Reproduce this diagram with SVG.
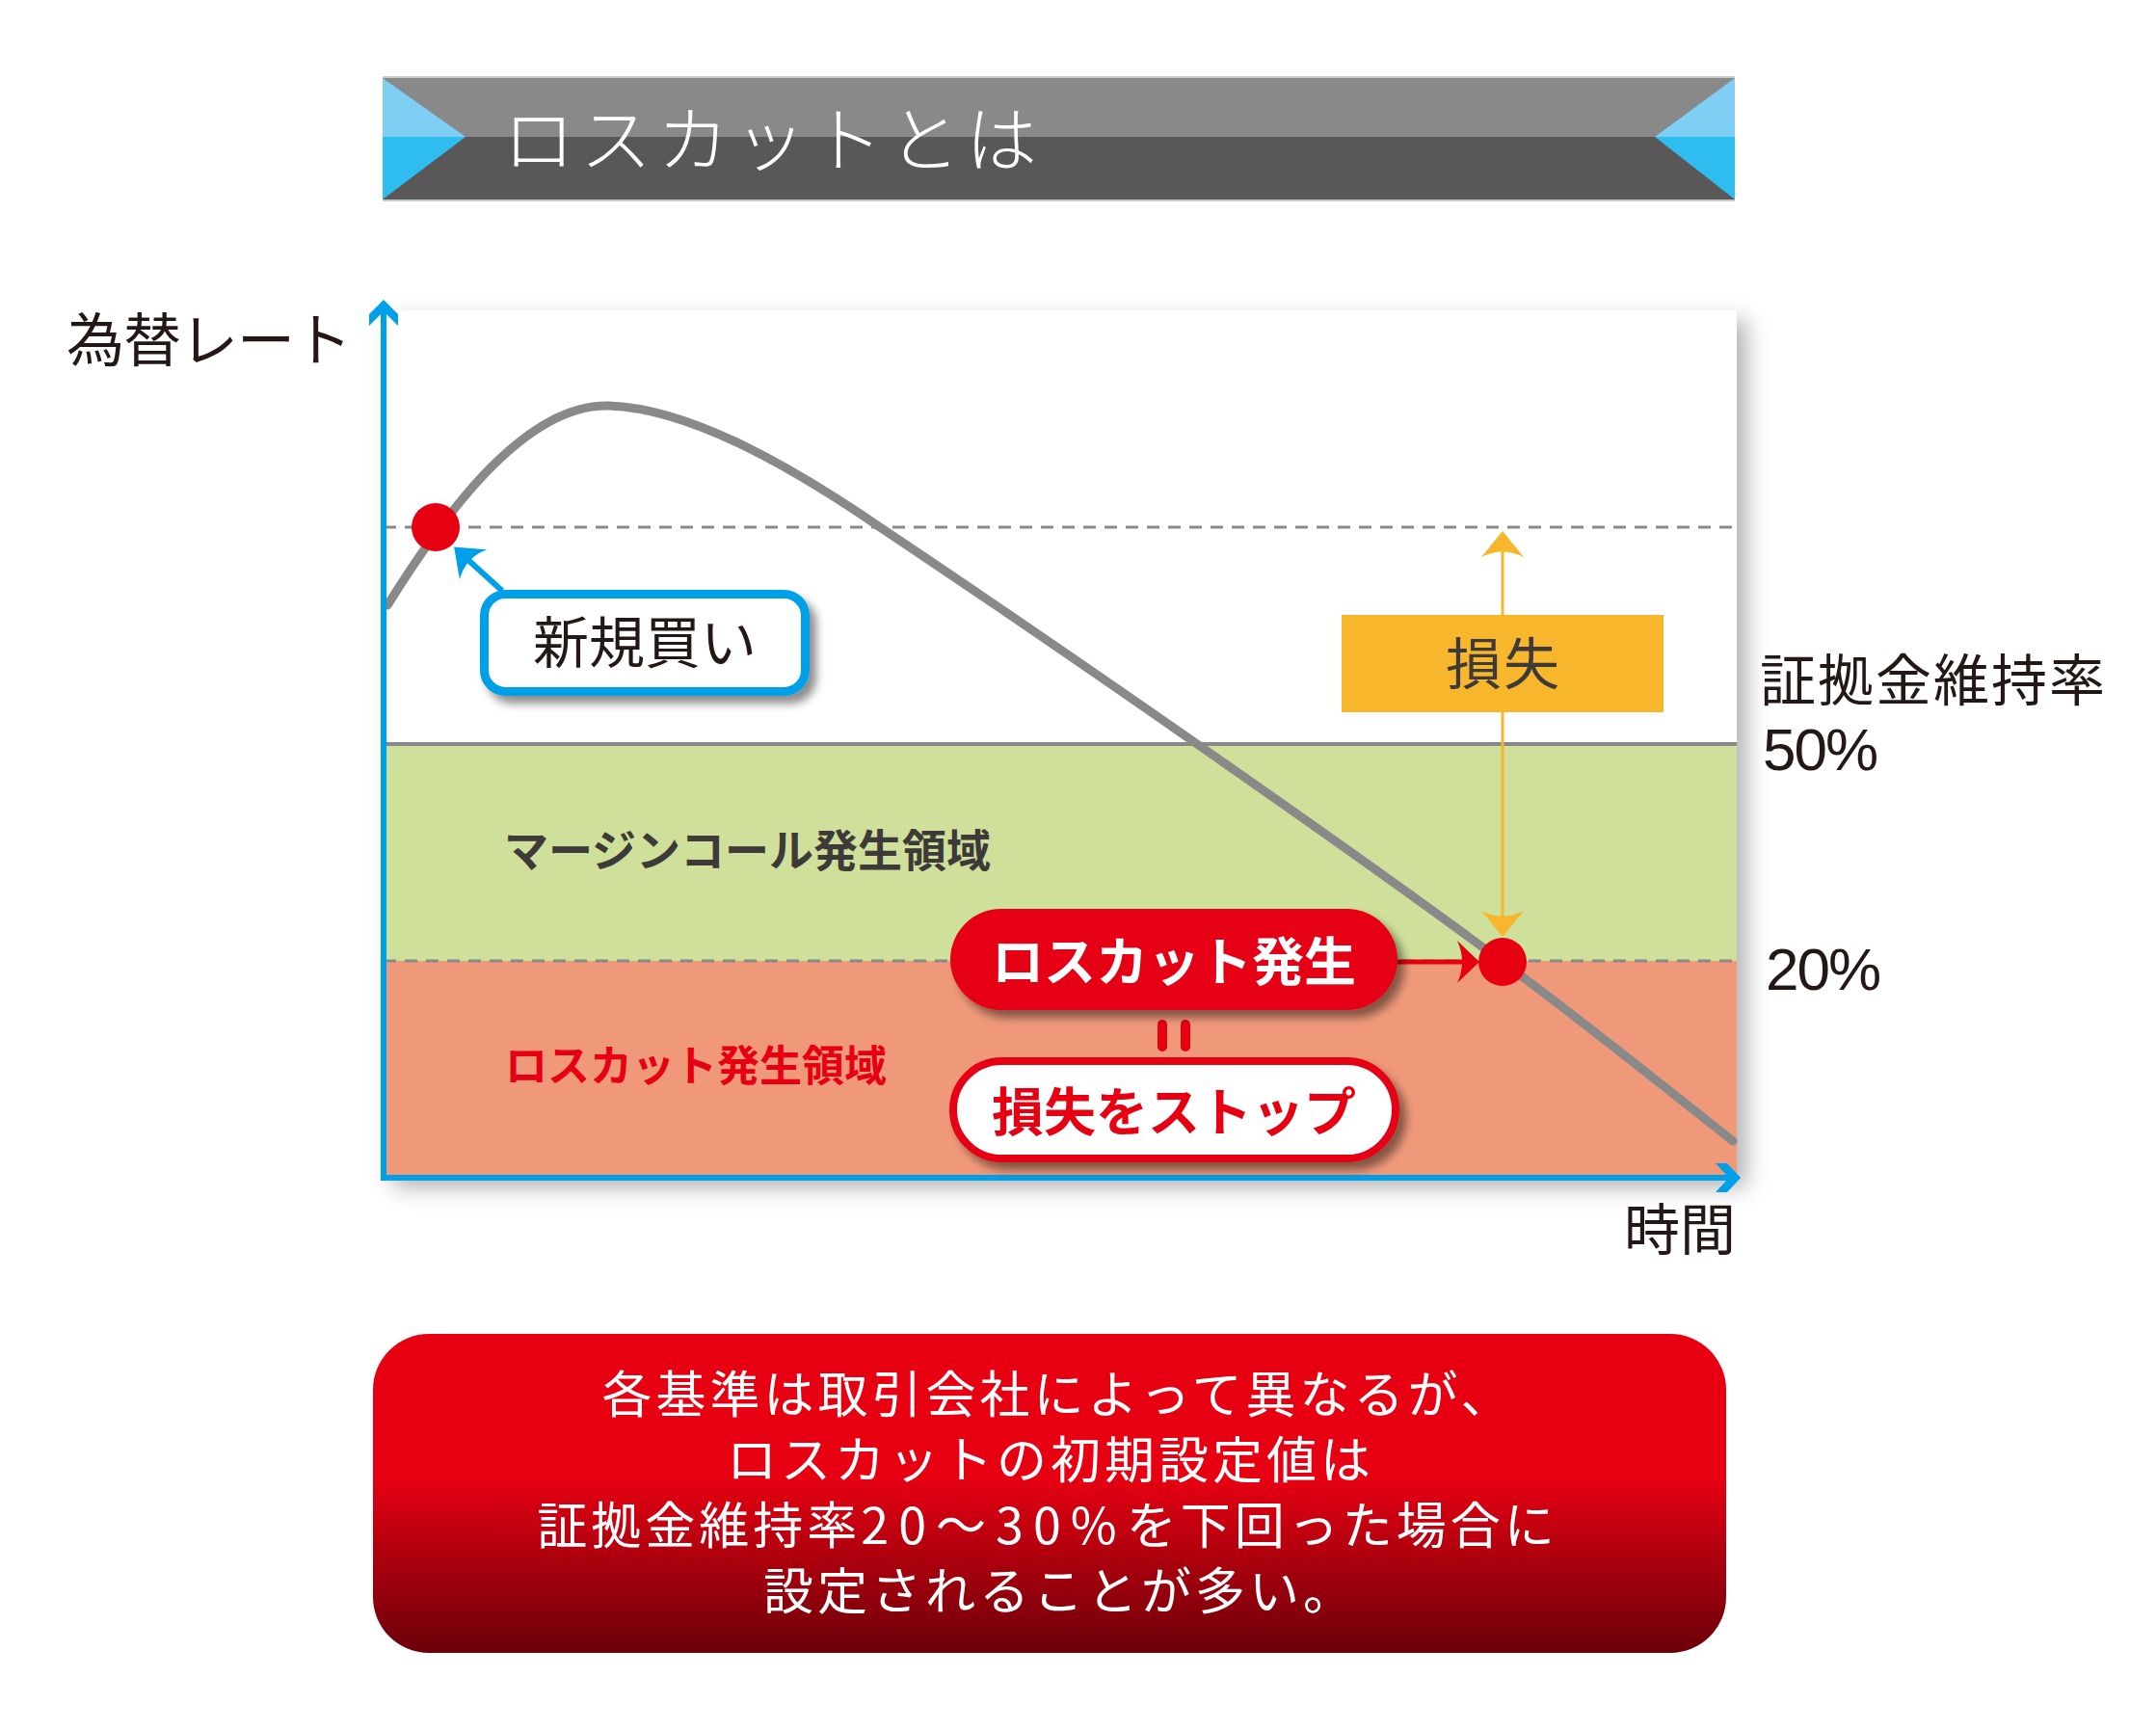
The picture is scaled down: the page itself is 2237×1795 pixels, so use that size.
<svg xmlns="http://www.w3.org/2000/svg" width="2237" height="1795" viewBox="0 0 2237 1795">
<defs>
<style>
text { font-family: "Noto Sans CJK JP", "Noto Sans", sans-serif; }
.dark { fill: #231815; }
.gray { fill: #3e3a39; }
.white { fill: #ffffff; }
.red { fill: #e60012; }
.ref { stroke: #898989; fill: none; }
.dash { stroke: #898989; stroke-width: 3; stroke-dasharray: 13 9; fill: none; }
.axis { stroke: #00a0e9; stroke-width: 6; fill: none; }
.note { fill: #ffffff; font-size: 52px; letter-spacing: 4px; text-anchor: middle; font-weight: 400; }
text.pct { font-family: "Liberation Sans", "Noto Sans", sans-serif; font-size: 62px; letter-spacing: -2px; }
</style>
<filter id="panelShadow" x="-5%" y="-5%" width="115%" height="115%">
<feDropShadow dx="10" dy="10" stdDeviation="11" flood-color="#000" flood-opacity="0.3"/>
</filter>
<filter id="boxShadow" x="-10%" y="-20%" width="130%" height="150%">
<feDropShadow dx="7" dy="8" stdDeviation="5" flood-color="#000" flood-opacity="0.45"/>
</filter>
<linearGradient id="noteGrad" x1="0" y1="0" x2="0" y2="1">
<stop offset="0" stop-color="#e60012"/>
<stop offset="0.45" stop-color="#e60012"/>
<stop offset="1" stop-color="#6a0009"/>
</linearGradient>
<marker id="ahBlue" markerUnits="userSpaceOnUse" viewBox="-30 -25 40 50" markerWidth="40" markerHeight="50" refX="-8" refY="0" orient="auto">
<path d="M0,0 L-27,-21 Q-16,0 -27,21 Z" fill="#00a0e9"/>
</marker>
<marker id="ahYellow" markerUnits="userSpaceOnUse" viewBox="-30 -25 40 50" markerWidth="40" markerHeight="50" refX="-8" refY="0" orient="auto">
<path d="M0,0 L-27,-22 Q-16,0 -27,22 Z" fill="#f8b62d"/>
</marker>
<marker id="ahRed" markerUnits="userSpaceOnUse" viewBox="-30 -25 40 50" markerWidth="40" markerHeight="50" refX="-6" refY="0" orient="auto">
<path d="M0,0 L-23,-22 Q-13,0 -23,22 Z" fill="#e60012"/>
</marker>
</defs>

<rect width="2237" height="1795" fill="#ffffff"/>

<!-- Title banner -->
<g id="title">
<rect x="397" y="80" width="1403" height="62" fill="#898989"/>
<rect x="397" y="142" width="1403" height="66" fill="#595757"/>
<line x1="397" y1="80" x2="1800" y2="80" stroke="#c9caca" stroke-width="2"/>
<line x1="397" y1="208" x2="1800" y2="208" stroke="#c9caca" stroke-width="2"/>
<polygon points="397,81 483,142 397,142" fill="#7fcef4"/>
<polygon points="397,142 483,142 397,207" fill="#2fbcee"/>
<polygon points="1800,81 1717,142 1800,142" fill="#7fcef4"/>
<polygon points="1800,142 1717,142 1800,207" fill="#2fbcee"/>
<text x="522" y="172" class="white" font-size="74" font-weight="300" letter-spacing="6">ロスカットとは</text>
</g>

<!-- Chart panel -->
<g id="panel">
<rect x="398" y="322" width="1404" height="900" fill="#ffffff" filter="url(#panelShadow)"/>
<rect x="398" y="772" width="1404" height="225" fill="#cee09a"/>
<rect x="398" y="997" width="1404" height="225" fill="#f0997a"/>
<line class="ref" x1="398" y1="772" x2="1802" y2="772" stroke-width="4"/>
<line class="dash" x1="398" y1="547" x2="1802" y2="547"/>
<line class="dash" x1="398" y1="997" x2="1802" y2="997"/>
</g>

<g id="zone-margincall">
<text x="523" y="899" class="gray" font-size="46" font-weight="700">マージンコール発生領域</text>
</g>
<g id="zone-losscut">
<text x="524" y="1122" class="red" font-size="44" font-weight="700">ロスカット発生領域</text>
</g>

<!-- Rate curve -->
<g id="curve">
<path d="M402,628 C452,548 540,418 632,421 C720,424 830,490 913,547 C1100,672 1400,880 1559,998 C1640,1058 1720,1122 1798,1184" fill="none" stroke="#898989" stroke-width="9" stroke-linecap="round"/>
</g>

<!-- Axes -->
<g id="axes">
<line class="axis" x1="398" y1="320" x2="398" y2="1225"/>
<line class="axis" x1="395" y1="1222" x2="1800" y2="1222"/>
<polygon points="398,311 413,326 413,338 398,323 383,338 383,326" fill="#00a0e9"/>
<polygon points="1806,1222 1792,1207 1780,1207 1794,1222 1780,1237 1792,1237" fill="#00a0e9"/>
</g>

<g id="label-rate">
<text x="69" y="375" class="dark" font-size="60" letter-spacing="-1">為替レート</text>
</g>
<g id="label-time">
<text x="1801" y="1297" class="dark" font-size="58" text-anchor="end">時間</text>
</g>
<g id="label-ratio">
<text x="1826" y="727" class="dark" font-size="58" letter-spacing="2">証拠金維持率</text>
<text x="1829" y="799" class="dark pct">50%</text>
</g>
<g id="label-20">
<text x="1832" y="1027" class="dark pct">20%</text>
</g>

<!-- Connectors -->
<g id="connectors">
<line x1="521" y1="613" x2="477" y2="573" stroke="#00a0e9" stroke-width="6" marker-end="url(#ahBlue)"/>
<line x1="1559" y1="638" x2="1559" y2="559" stroke="#f8b62d" stroke-width="3" marker-end="url(#ahYellow)"/>
<line x1="1559" y1="738" x2="1559" y2="964" stroke="#f8b62d" stroke-width="3" marker-end="url(#ahYellow)"/>
<line x1="1448" y1="998" x2="1529" y2="998" stroke="#e60012" stroke-width="5" marker-end="url(#ahRed)"/>
<line x1="1206" y1="1063" x2="1206" y2="1086" stroke="#e60012" stroke-width="10" stroke-linecap="round"/>
<line x1="1230" y1="1063" x2="1230" y2="1086" stroke="#e60012" stroke-width="10" stroke-linecap="round"/>
</g>

<!-- Points -->
<g id="point-buy">
<circle cx="452" cy="547" r="25" fill="#e60012"/>
</g>
<g id="point-losscut">
<circle cx="1559" cy="998" r="25" fill="#e60012"/>
</g>

<!-- Nodes -->
<g id="node-newbuy">
<rect x="502.5" y="616.5" width="333" height="101" rx="22" fill="#ffffff" stroke="#00a0e9" stroke-width="9" filter="url(#boxShadow)"/>
<text x="669" y="688" class="dark" font-size="58" text-anchor="middle">新規買い</text>
</g>

<g id="node-loss">
<rect x="1392" y="638" width="334" height="101" fill="#f8b62d"/>
<text x="1560" y="710" class="gray" font-size="58" text-anchor="middle" letter-spacing="2">損失</text>
</g>

<g id="node-losscut">
<rect x="986" y="943" width="464" height="105" rx="52.5" fill="#e60012" filter="url(#boxShadow)"/>
<text x="1218" y="1018" class="white" font-size="54" font-weight="700" text-anchor="middle">ロスカット発生</text>
</g>

<g id="node-stoploss">
<rect x="989" y="1101" width="459" height="101" rx="50.5" fill="#ffffff" stroke="#e60012" stroke-width="8" filter="url(#boxShadow)"/>
<text x="1218" y="1174" class="red" font-size="54" font-weight="700" text-anchor="middle">損失をストップ</text>
</g>

<!-- Note -->
<g id="note">
<rect x="387" y="1384" width="1404" height="331" rx="58" fill="url(#noteGrad)"/>
<text x="1098" y="1466" class="note">各基準は取引会社によって異なるが、</text>
<text x="1090" y="1534" class="note">ロスカットの初期設定値は</text>
<text x="1087" y="1602" class="note">証拠金維持率<tspan letter-spacing="10">20〜30%</tspan>を下回った場合に</text>
<text x="1100" y="1670" class="note">設定されることが多い。</text>
</g>
</svg>
